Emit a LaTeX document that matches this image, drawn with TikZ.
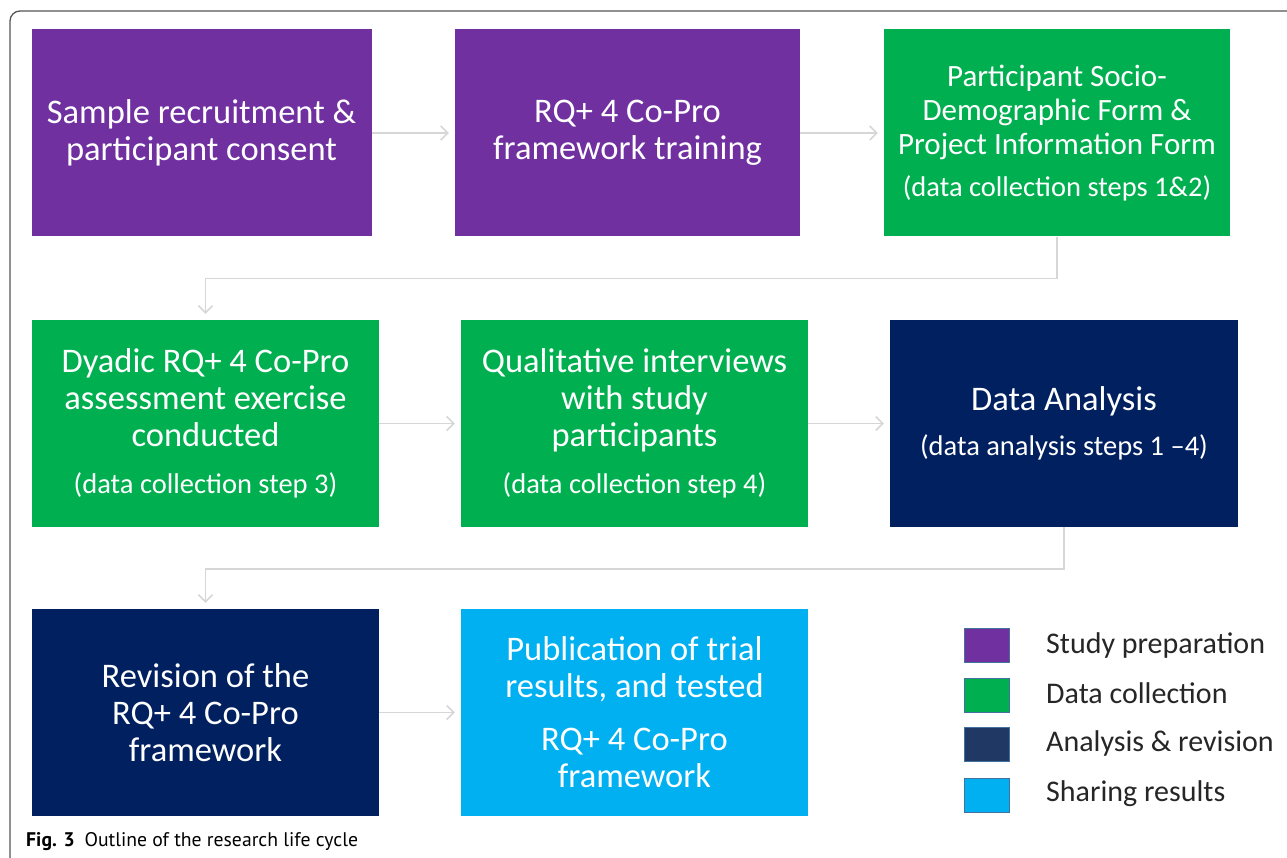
\documentclass[tikz,border=0pt]{standalone}
\usepackage{fontspec}
\setmainfont{Carlito}
\newfontfamily\capfont{PT Sans}
\usetikzlibrary{arrows.meta}

\definecolor{prepcol}{HTML}{7030A0}
\definecolor{collcol}{HTML}{00B050}
\definecolor{anacol}{HTML}{002060}
\definecolor{sharecol}{HTML}{00B0F0}
\definecolor{legana}{HTML}{1F3864}
\definecolor{legedge}{HTML}{41719C}
\definecolor{linkgray}{HTML}{D6D6D6}
\definecolor{framegray}{HTML}{555555}

\newcommand{\subline}[1]{{\fontsize{28.5}{33}\selectfont #1}}

\tikzset{
  stepbox/.style={minimum width=347pt, minimum height=207pt, inner sep=0pt, text=white,
    align=center, font=\fontsize{34.5}{37}\selectfont},
  link/.style={draw=linkgray, line width=1.5pt, -{Straight Barb[length=7pt,width=14pt]}, shorten >=6pt},
  legbox/.style={draw=legedge, line width=1pt, minimum width=45pt, minimum height=34pt, inner sep=0pt},
  legtext/.style={anchor=west, inner sep=0pt, text=black!85, font=\fontsize{30}{34}\selectfont},
}

\begin{document}
\begin{tikzpicture}[x=1pt,y=-1pt]
  \useasboundingbox (0,0) rectangle (1287,858);

  % Rahmen
  \draw[framegray, line width=1.3pt, rounded corners=10pt] (1287,11) -- (10,11) -- (10,858);

  % Reihe 1
  \node[stepbox, fill=prepcol, minimum width=340pt] (recruit) at (201.5,133) {Sample recruitment \&\\participant consent};
  \node[stepbox, fill=prepcol, minimum width=345pt] (training) at (627.5,133) {RQ+ 4 Co-Pro\\framework training};
  \node[stepbox, fill=collcol, minimum width=346pt, font=\fontsize{31}{34}\selectfont] (forms) at (1057,133)
    {Participant Socio-\\Demographic Form \&\\Project Information Form\\[8pt]\subline{(data collection steps 1\&2)}};

  % Reihe 2
  \node[stepbox, fill=collcol] (dyadic) at (205.5,423.5) {Dyadic RQ+ 4 Co-Pro\\assessment exercise\\conducted\\[10pt]\subline{(data collection step 3)}};
  \node[stepbox, fill=collcol] (interviews) at (634.5,423.5) {Qualitative interviews\\with study\\participants\\[10pt]\subline{(data collection step 4)}};
  \node[stepbox, fill=anacol, minimum width=348pt] (analysis) at (1064,423.5) {Data Analysis\\[8pt]\subline{(data analysis steps 1 --4)}};

  % Reihe 3
  \node[stepbox, fill=anacol] (revision) at (205.5,712.5) {Revision of the\\RQ+ 4 Co-Pro\\framework};
  \node[stepbox, fill=sharecol] (publish) at (634.5,712.5) {Publication of trial\\results, and tested\\[16pt]RQ+ 4 Co-Pro\\framework};

  % Pfeile
  \draw[link] (recruit.east) -- (training.west);
  \draw[link] (training.east) -- (forms.west);
  \draw[link] (forms.south) -- ++(0,42) -| (dyadic.north);
  \draw[link] (dyadic.east) -- (interviews.west);
  \draw[link] (interviews.east) -- (analysis.west);
  \draw[link] (analysis.south) -- ++(0,42) -| (revision.north);
  \draw[link] (revision.east) -- (publish.west);

  % Legende
  \node[legbox, fill=prepcol] (legprep) at (986.5,645) {};
  \node[legbox, fill=collcol] (legcoll) at (986.5,695) {};
  \node[legbox, fill=legana] (legana) at (986.5,744) {};
  \node[legbox, fill=sharecol] (legshare) at (986.5,795) {};
  \node[legtext] (txtprep) at (1046,645) {Study preparation};
  \node[legtext] (txtcoll) at (1046,693) {Data collection};
  \node[legtext] (txtana) at (1046,743) {Analysis \& revision};
  \node[legtext] (txtshare) at (1046,794) {Sharing results};

  % Bildunterschrift
  \node[anchor=base west, inner sep=0pt, font=\capfont\fontsize{19.7}{23}\selectfont] (caption) at (26,846)
    {\textbf{Fig. 3}\enspace Outline of the research life cycle};
\end{tikzpicture}
\end{document}
